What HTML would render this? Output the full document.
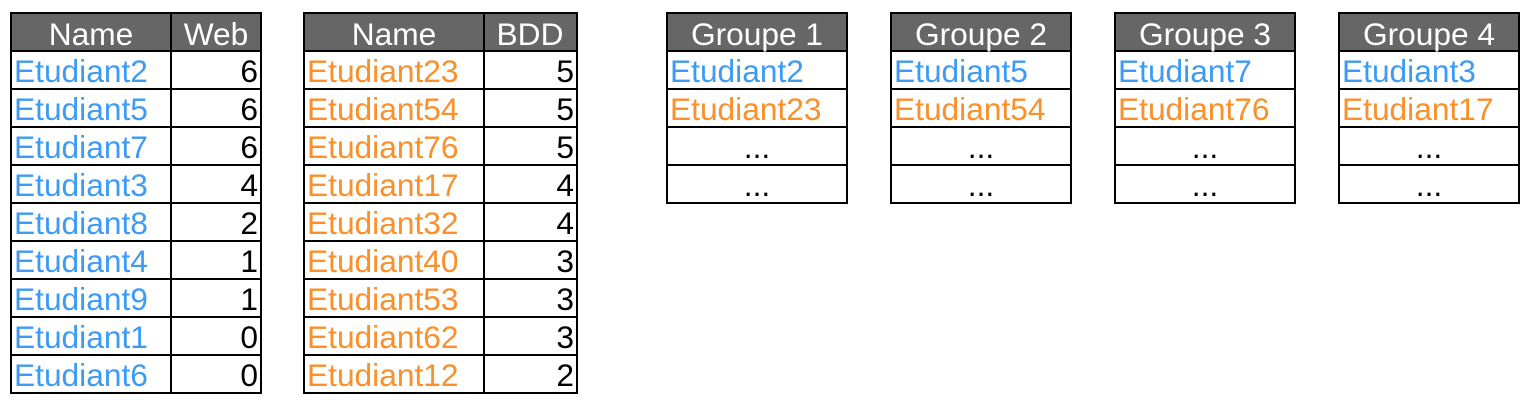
<!DOCTYPE html>
<html><head><meta charset="utf-8"><style>
html,body{margin:0;padding:0;background:#fff;width:1534px;height:414px;overflow:hidden}
svg text{font-family:"Liberation Sans",sans-serif;font-size:31.7px}
.h{fill:#fff;text-anchor:middle}
.b{fill:#3d9bf5}.o{fill:#fb8f2a}.k{fill:#000}
.r{text-anchor:end}.c{text-anchor:middle}
</style></head><body>
<svg width="1534" height="414" xmlns="http://www.w3.org/2000/svg">
<g stroke="#000" stroke-width="2" fill="none">
<rect x="11" y="13" width="250" height="38" fill="#666"/>
<rect x="11" y="13" width="250" height="380"/>
<line x1="171" y1="13" x2="171" y2="393"/>
<rect x="304" y="13" width="273" height="38" fill="#666"/>
<rect x="304" y="13" width="273" height="380"/>
<line x1="484" y1="13" x2="484" y2="393"/>
<path d="M11 51H261M11 89H261M11 127H261M11 165H261M11 203H261M11 241H261M11 279H261M11 317H261M11 355H261"/>
<path d="M304 51H577M304 89H577M304 127H577M304 165H577M304 203H577M304 241H577M304 279H577M304 317H577M304 355H577"/>
<rect x="667" y="13" width="180" height="38" fill="#666"/><rect x="667" y="13" width="180" height="190"/>
<rect x="891" y="13" width="180" height="38" fill="#666"/><rect x="891" y="13" width="180" height="190"/>
<rect x="1115" y="13" width="180" height="38" fill="#666"/><rect x="1115" y="13" width="180" height="190"/>
<rect x="1339" y="13" width="180" height="38" fill="#666"/><rect x="1339" y="13" width="180" height="190"/>
<path d="M667 89H847M667 127H847M667 165H847M891 89H1071M891 127H1071M891 165H1071M1115 89H1295M1115 127H1295M1115 165H1295M1339 89H1519M1339 127H1519M1339 165H1519"/>
</g>
<text class="h" x="91" y="45">Name</text><text class="h" x="216" y="45">Web</text>
<text class="h" x="394" y="45">Name</text><text class="h" x="530" y="45">BDD</text>
<g class="b">
<text x="14" y="82">Etudiant2</text><text x="14" y="120">Etudiant5</text><text x="14" y="158">Etudiant7</text>
<text x="14" y="196">Etudiant3</text><text x="14" y="234">Etudiant8</text><text x="14" y="272">Etudiant4</text>
<text x="14" y="310">Etudiant9</text><text x="14" y="348">Etudiant1</text><text x="14" y="386">Etudiant6</text>
</g>
<g class="k r">
<text x="258" y="82">6</text><text x="258" y="120">6</text><text x="258" y="158">6</text>
<text x="258" y="196">4</text><text x="258" y="234">2</text><text x="258" y="272">1</text>
<text x="258" y="310">1</text><text x="258" y="348">0</text><text x="258" y="386">0</text>
</g>
<g class="o">
<text x="307" y="82">Etudiant23</text><text x="307" y="120">Etudiant54</text><text x="307" y="158">Etudiant76</text>
<text x="307" y="196">Etudiant17</text><text x="307" y="234">Etudiant32</text><text x="307" y="272">Etudiant40</text>
<text x="307" y="310">Etudiant53</text><text x="307" y="348">Etudiant62</text><text x="307" y="386">Etudiant12</text>
</g>
<g class="k r">
<text x="574" y="82">5</text><text x="574" y="120">5</text><text x="574" y="158">5</text>
<text x="574" y="196">4</text><text x="574" y="234">4</text><text x="574" y="272">3</text>
<text x="574" y="310">3</text><text x="574" y="348">3</text><text x="574" y="386">2</text>
</g>
<text class="h" x="757" y="45">Groupe 1</text><text class="h" x="981" y="45">Groupe 2</text>
<text class="h" x="1205" y="45">Groupe 3</text><text class="h" x="1429" y="45">Groupe 4</text>
<text class="b" x="670" y="82">Etudiant2</text><text class="o" x="670" y="120">Etudiant23</text>
<text class="b" x="894" y="82">Etudiant5</text><text class="o" x="894" y="120">Etudiant54</text>
<text class="b" x="1118" y="82">Etudiant7</text><text class="o" x="1118" y="120">Etudiant76</text>
<text class="b" x="1342" y="82">Etudiant3</text><text class="o" x="1342" y="120">Etudiant17</text>
<g class="k c">
<text x="757" y="158">...</text><text x="757" y="196">...</text>
<text x="981" y="158">...</text><text x="981" y="196">...</text>
<text x="1205" y="158">...</text><text x="1205" y="196">...</text>
<text x="1429" y="158">...</text><text x="1429" y="196">...</text>
</g>
</svg>
</body></html>
